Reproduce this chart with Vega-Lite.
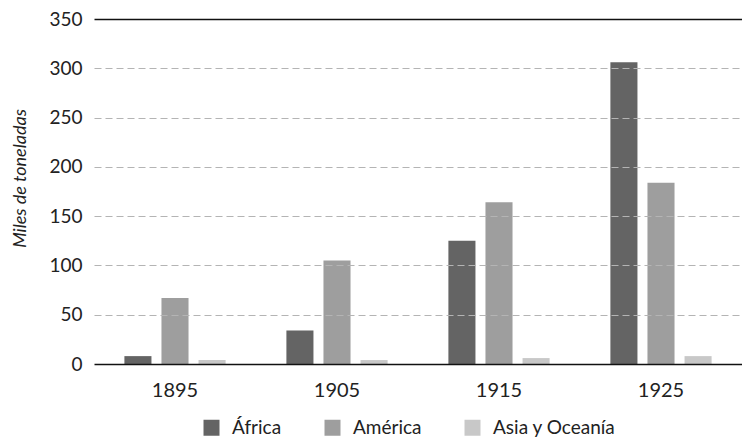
{
  "$schema": "https://vega.github.io/schema/vega-lite/v6.json",
  "width": 648,
  "height": 345,
  "autosize": {"type": "none"},
  "padding": {"left": 94, "top": 19, "right": 0, "bottom": 76},
  "config": {
    "view": {"stroke": null},
    "font": "Lato",
    "axis": {"labelFont": "Lato", "titleFont": "Lato"},
    "legend": {"labelFont": "Lato"}
  },
  "data": {
    "values": [
      {"año": "1895", "region": "África", "valor": 8},
      {"año": "1895", "region": "América", "valor": 67},
      {"año": "1895", "region": "Asia y Oceanía", "valor": 4},
      {"año": "1905", "region": "África", "valor": 34},
      {"año": "1905", "region": "América", "valor": 105},
      {"año": "1905", "region": "Asia y Oceanía", "valor": 4},
      {"año": "1915", "region": "África", "valor": 125},
      {"año": "1915", "region": "América", "valor": 164},
      {"año": "1915", "region": "Asia y Oceanía", "valor": 6},
      {"año": "1925", "region": "África", "valor": 306},
      {"año": "1925", "region": "América", "valor": 184},
      {"año": "1925", "region": "Asia y Oceanía", "valor": 8}
    ]
  },
  "mark": {"type": "bar"},
  "encoding": {
    "x": {
      "field": "año",
      "type": "nominal",
      "scale": {"paddingInner": 0, "paddingOuter": 0},
      "axis": {
        "title": null,
        "labelAngle": 0,
        "ticks": false,
        "domain": false,
        "grid": false,
        "labelFontSize": 20,
        "labelColor": "#222222",
        "labelPadding": 16
      }
    },
    "xOffset": {
      "field": "region",
      "type": "nominal",
      "sort": ["África", "América", "Asia y Oceanía"],
      "scale": {"paddingInner": 0.27, "paddingOuter": 0.82}
    },
    "y": {
      "field": "valor",
      "type": "quantitative",
      "scale": {"domain": [0, 350], "nice": false},
      "axis": {
        "title": "Miles de toneladas",
        "titleFontStyle": "italic",
        "titleFontWeight": "normal",
        "titleFontSize": 18,
        "titleColor": "#222222",
        "titleAngle": -90,
        "titleAlign": "center",
        "titleBaseline": "alphabetic",
        "titleX": -69,
        "titleY": 159,
        "values": [0, 50, 100, 150, 200, 250, 300, 350],
        "ticks": false,
        "domain": false,
        "labelFontSize": 19,
        "labelColor": "#222222",
        "labelPadding": 12,
        "grid": true,
        "gridColor": {"condition": {"test": "datum.value === 0 || datum.value === 350", "value": "#111111"}, "value": "#b4b4b4"},
        "gridDash": {"condition": {"test": "datum.value === 0 || datum.value === 350", "value": []}, "value": [7, 4]},
        "gridWidth": {"condition": {"test": "datum.value === 0 || datum.value === 350", "value": 1.3}, "value": 1.2},
        "gridOpacity": 1,
        "zindex": 1
      }
    },
    "color": {
      "field": "region",
      "type": "nominal",
      "sort": ["África", "América", "Asia y Oceanía"],
      "scale": {"domain": ["África", "América", "Asia y Oceanía"], "range": ["#646464", "#9e9e9e", "#c8c8c8"]},
      "legend": {
        "title": null,
        "orient": "none",
        "legendX": 108,
        "legendY": 399,
        "direction": "horizontal",
        "symbolType": "square",
        "symbolSize": 256,
        "symbolStrokeWidth": 0,
        "labelFontSize": 19,
        "labelColor": "#222222",
        "labelOffset": 11,
        "columnPadding": 41
      }
    }
  }
}
